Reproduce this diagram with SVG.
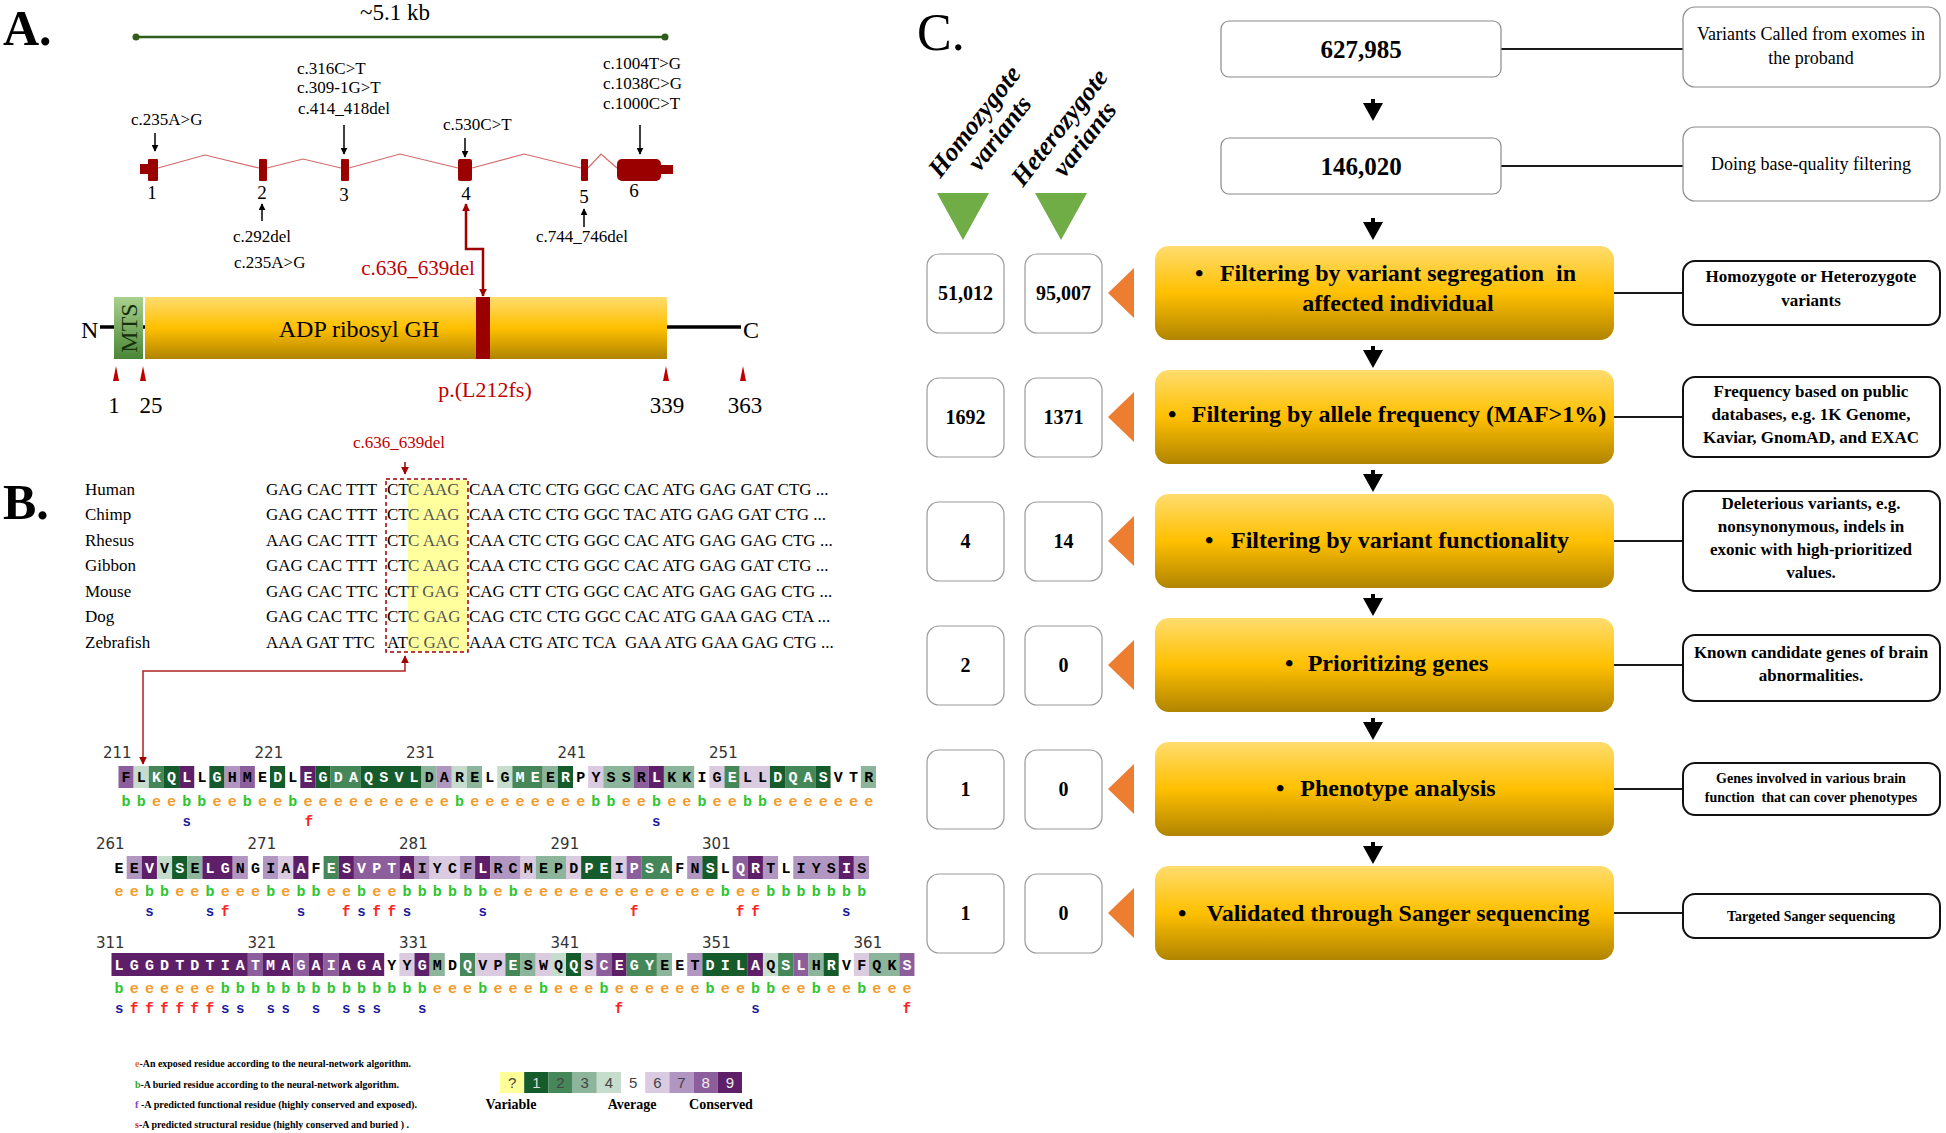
<svg xmlns="http://www.w3.org/2000/svg" width="1946" height="1133" viewBox="0 0 1946 1133">
<defs>
<style>
.s{font-family:"Liberation Serif","Times New Roman",serif}
.m{font-family:"Liberation Mono","Courier New",monospace;font-weight:bold}
.d{font-family:"DejaVu Sans",Verdana,sans-serif}
.g1{fill:#165b2c}.g2{fill:#46875a}.g3{fill:#8cb59b}.g4{fill:#c6dccd}.g6{fill:#dacbe1}.g7{fill:#b196c2}.g8{fill:#8d5e9c}.g9{fill:#5e1f69}
.w{fill:#fff}.k{fill:#000}
.b{fill:#2ec52e}.e{fill:#f39c2b}
.sn{fill:#1a1a9c}.fn{fill:#ff2222}
.cnt{fill:#fff;stroke:#9a9a9a;stroke-width:1.2}
.rb{fill:#fff;stroke:#111;stroke-width:2}
.rt{fill:#fff;stroke:#8a8a8a;stroke-width:1.2}
.yb{fill:url(#gold)}
.conn{stroke:#1a1a1a;stroke-width:1.8;fill:none}
.ex{fill:#9b0000}
.ar{fill:#000}
.tri{fill:#ed7d31}
.gt{fill:#70ad47}
.lab{font-size:17px}
</style>
<linearGradient id="gold" x1="0" y1="0" x2="0" y2="1">
<stop offset="0" stop-color="#ffdc6e"/><stop offset="0.5" stop-color="#ffc000"/><stop offset="1" stop-color="#b08400"/>
</linearGradient>
<linearGradient id="mts" x1="0" y1="0" x2="0" y2="1">
<stop offset="0" stop-color="#a9d18e"/><stop offset="1" stop-color="#4a8636"/>
</linearGradient>
<marker id="ab" viewBox="0 0 10 10" refX="9" refY="5" markerWidth="7" markerHeight="7" markerUnits="userSpaceOnUse" orient="auto-start-reverse"><path d="M0,0 L10,5 L0,10 z" fill="#000"/></marker>
<marker id="arr" viewBox="0 0 10 10" refX="9" refY="5" markerWidth="8" markerHeight="8" markerUnits="userSpaceOnUse" orient="auto-start-reverse"><path d="M0,0 L10,5 L0,10 z" fill="#a00000"/></marker>
</defs>
<rect width="1946" height="1133" fill="#fff"/>

<!-- ============ PANEL A ============ -->
<g id="panelA">
<text class="s" x="3" y="45" font-size="50" font-weight="bold">A.</text>
<g id="scale">
<line x1="136" y1="37" x2="665" y2="37" stroke="#2f5e1c" stroke-width="2.5"/>
<circle cx="136" cy="37" r="3.5" fill="#2f5e1c"/><circle cx="665" cy="37" r="3.5" fill="#2f5e1c"/>
<text class="s" x="395" y="20" font-size="23" text-anchor="middle">~5.1 kb</text>
</g>
<g id="gene">
<polyline points="158,168 205,155 259,168" fill="none" stroke="#d46a6a" stroke-width="1.2"/>
<polyline points="267,168 303,159 341,168" fill="none" stroke="#d46a6a" stroke-width="1.2"/>
<polyline points="349,168 400,154 458,168" fill="none" stroke="#d46a6a" stroke-width="1.2"/>
<polyline points="472,168 524,154 581,168" fill="none" stroke="#d46a6a" stroke-width="1.2"/>
<polyline points="588,168 601,154 617,168" fill="none" stroke="#d46a6a" stroke-width="1.2"/>
<rect class="ex" x="140" y="164" width="9" height="10"/>
<rect class="ex" x="148" y="159" width="10" height="22" rx="1"/>
<rect class="ex" x="259" y="159" width="8" height="22" rx="1"/>
<rect class="ex" x="341" y="159" width="8" height="22" rx="1"/>
<rect class="ex" x="458" y="159" width="14" height="22" rx="2"/>
<rect class="ex" x="581" y="159" width="7" height="22" rx="1"/>
<rect class="ex" x="617" y="159" width="44" height="22" rx="5"/>
<rect class="ex" x="659" y="165" width="14" height="9"/>
</g>
<g id="exonNumbers" class="s" font-size="19" text-anchor="middle">
<text x="152" y="199">1</text><text x="262" y="199">2</text><text x="344" y="201">3</text>
<text x="466" y="200">4</text><text x="584" y="203">5</text><text x="634" y="197">6</text>
</g>
<g id="mutations" class="s lab">
<text x="131" y="125">c.235A&gt;G</text>
<text x="297" y="74">c.316C&gt;T</text>
<text x="297" y="93">c.309-1G&gt;T</text>
<text x="298" y="114">c.414_418del</text>
<text x="443" y="130">c.530C&gt;T</text>
<text x="603" y="69">c.1004T&gt;G</text>
<text x="603" y="89">c.1038C&gt;G</text>
<text x="603" y="109">c.1000C&gt;T</text>
<text x="233" y="242">c.292del</text>
<text x="234" y="268">c.235A&gt;G</text>
<text x="536" y="242">c.744_746del</text>
</g>
<g id="mutationArrows" stroke="#000" stroke-width="1.5" fill="none">
<line x1="155" y1="133" x2="155" y2="151" marker-end="url(#ab)"/>
<line x1="344" y1="125" x2="344" y2="154" marker-end="url(#ab)"/>
<line x1="465" y1="138" x2="465" y2="157" marker-end="url(#ab)"/>
<line x1="640" y1="125" x2="640" y2="154" marker-end="url(#ab)"/>
<line x1="262" y1="221" x2="262" y2="204" marker-end="url(#ab)"/>
<line x1="584" y1="227" x2="584" y2="209" marker-end="url(#ab)"/>
</g>
<g id="redLinkA">
<path d="M466,204 V249 H483 V296" fill="none" stroke="#a00000" stroke-width="2.5" marker-start="url(#arr)" marker-end="url(#arr)"/>
<text class="s" x="418" y="275" font-size="21" fill="#c00000" text-anchor="middle">c.636_639del</text>
</g>
<g id="protein">
<line x1="100" y1="327" x2="115" y2="327" stroke="#000" stroke-width="3.5"/>
<line x1="142" y1="327" x2="146" y2="327" stroke="#000" stroke-width="3.5"/>
<line x1="666" y1="327" x2="741" y2="327" stroke="#000" stroke-width="3.5"/>
<rect x="114" y="297" width="29" height="62" fill="url(#mts)"/>
<rect x="145" y="297" width="522" height="62" fill="url(#gold)"/>
<rect x="476" y="297" width="14" height="62" fill="#9b0000"/>
<text class="s" transform="translate(137,328) rotate(-90)" font-size="24" text-anchor="middle" fill="#15300c">MTS</text>
<text class="s" x="359" y="337" font-size="24" text-anchor="middle">ADP ribosyl GH</text>
<text class="s" x="81" y="338" font-size="24">N</text>
<text class="s" x="743" y="338" font-size="24">C</text>
<g fill="#c00000">
<polygon points="113,381 116,366 119,381"/><polygon points="140,381 143,366 146,381"/>
<polygon points="663,381 666,366 669,381"/><polygon points="740,381 743,366 746,381"/>
</g>
<g class="s" font-size="23" text-anchor="middle">
<text x="114" y="413">1</text><text x="151" y="413">25</text><text x="667" y="413">339</text><text x="745" y="413">363</text>
</g>
<text class="s" x="485" y="397" font-size="22" fill="#c00000" text-anchor="middle">p.(L212fs)</text>
</g>
</g>

<!-- ============ PANEL B ============ -->
<g id="panelB">
<text class="s" x="3" y="519" font-size="50" font-weight="bold">B.</text>
<text class="s" x="399" y="448" font-size="17" fill="#c00000" text-anchor="middle">c.636_639del</text>
<line x1="405" y1="462" x2="405" y2="474" stroke="#a00000" stroke-width="1.5" marker-end="url(#arr)"/>
<rect x="408" y="480" width="59" height="171" fill="#ffff9e"/>
<rect x="386" y="479" width="82" height="173" fill="none" stroke="#a00000" stroke-width="1.5" stroke-dasharray="4,3"/>
<g id="species" class="s" font-size="17">
<text x="85" y="495">Human</text><text x="85" y="520">Chimp</text><text x="85" y="546">Rhesus</text>
<text x="85" y="571">Gibbon</text><text x="85" y="597">Mouse</text><text x="85" y="622">Dog</text><text x="85" y="648">Zebrafish</text>
</g>
<g id="alignment" class="s" font-size="17">
<text x="266" y="495">GAG CAC TTT</text><text x="387" y="495">CT</text><text x="408" y="495" fill="#555">C AAG</text><text x="469" y="495">CAA CTC CTG GGC CAC ATG GAG GAT CTG ...</text>
<text x="266" y="520">GAG CAC TTT</text><text x="387" y="520">CT</text><text x="408" y="520" fill="#555">C AAG</text><text x="469" y="520">CAA CTC CTG GGC TAC ATG GAG GAT CTG ...</text>
<text x="266" y="546">AAG CAC TTT</text><text x="387" y="546">CT</text><text x="408" y="546" fill="#555">C AAG</text><text x="469" y="546">CAA CTC CTG GGC CAC ATG GAG GAG CTG ...</text>
<text x="266" y="571">GAG CAC TTT</text><text x="387" y="571">CT</text><text x="408" y="571" fill="#555">C AAG</text><text x="469" y="571">CAA CTC CTG GGC CAC ATG GAG GAT CTG ...</text>
<text x="266" y="597">GAG CAC TTC</text><text x="387" y="597">CT</text><text x="408" y="597" fill="#555">T GAG</text><text x="469" y="597">CAG CTT CTG GGC CAC ATG GAG GAG CTG ...</text>
<text x="266" y="622">GAG CAC TTC</text><text x="387" y="622">CT</text><text x="408" y="622" fill="#555">C GAG</text><text x="469" y="622">CAG CTC CTG GGC CAC ATG GAA GAG CTA ...</text>
<text x="266" y="648">AAA GAT TTC</text><text x="387" y="648">AT</text><text x="408" y="648" fill="#555">C GAC</text><text x="469" y="648">AAA CTG ATC TCA&#160; GAA ATG GAA GAG CTG ...</text>
</g>
<path d="M405,656 V671 H143 V764" fill="none" stroke="#b02020" stroke-width="1.5" marker-start="url(#arr)" marker-end="url(#arr)"/>

<!-- row 1 -->
<g id="row1">
<g class="d" font-size="15" fill="#333" text-anchor="end">
<text x="131.6" y="758">211</text><text x="283.2" y="758">221</text><text x="434.7" y="758">231</text><text x="586.2" y="758">241</text><text x="737.7" y="758">251</text>
</g>
<g transform="translate(0,766)">
<rect class="g8" x="118.5" width="15.15" height="22"/>
<rect class="g4" x="133.65" width="15.15" height="22"/>
<rect class="g2" x="148.8" width="15.15" height="22"/>
<rect class="g1" x="163.95" width="15.15" height="22"/>
<rect class="g9" x="179.1" width="15.15" height="22"/>
<rect class="g1" x="209.4" width="15.15" height="22"/>
<rect class="g7" x="224.55" width="15.15" height="22"/>
<rect class="g8" x="239.7" width="15.15" height="22"/>
<rect class="g1" x="270" width="15.15" height="22"/>
<rect class="g9" x="300.3" width="15.15" height="22"/>
<rect class="g1" x="315.45" width="15.15" height="22"/>
<rect class="g2" x="330.6" width="30.3" height="22"/>
<rect class="g1" x="360.9" width="60.6" height="22"/>
<rect class="g3" x="421.5" width="15.15" height="22"/>
<rect class="g7" x="436.65" width="15.15" height="22"/>
<rect class="g4" x="451.8" width="15.15" height="22"/>
<rect class="g3" x="466.95" width="15.15" height="22"/>
<rect class="g4" x="497.25" width="15.15" height="22"/>
<rect class="g2" x="512.4" width="30.3" height="22"/>
<rect class="g3" x="542.7" width="15.15" height="22"/>
<rect class="g1" x="557.85" width="15.15" height="22"/>
<rect class="g6" x="588.15" width="15.15" height="22"/>
<rect class="g3" x="603.3" width="30.3" height="22"/>
<rect class="g8" x="633.6" width="15.15" height="22"/>
<rect class="g9" x="648.75" width="15.15" height="22"/>
<rect class="g3" x="663.9" width="30.3" height="22"/>
<rect class="g6" x="709.35" width="15.15" height="22"/>
<rect class="g2" x="724.5" width="15.15" height="22"/>
<rect class="g6" x="739.65" width="30.3" height="22"/>
<rect class="g1" x="769.95" width="15.15" height="22"/>
<rect class="g2" x="785.1" width="30.3" height="22"/>
<rect class="g1" x="815.4" width="15.15" height="22"/>
<rect class="g3" x="860.85" width="15.15" height="22"/>
</g>
<text class="m" x="121.6" y="782" font-size="15" letter-spacing="6.15"><tspan class="k">FL</tspan><tspan class="w">KQL</tspan><tspan class="k">L</tspan><tspan class="w">G</tspan><tspan class="k">HME</tspan><tspan class="w">D</tspan><tspan class="k">L</tspan><tspan class="w">EGDAQSVL</tspan><tspan class="k">DARELG</tspan><tspan class="w">ME</tspan><tspan class="k">E</tspan><tspan class="w">R</tspan><tspan class="k">PYSSR</tspan><tspan class="w">L</tspan><tspan class="k">KKIG</tspan><tspan class="w">E</tspan><tspan class="k">LL</tspan><tspan class="w">DQAS</tspan><tspan class="k">VTR</tspan></text>
<text class="m" x="121.6" y="806" font-size="15" letter-spacing="6.15"><tspan class="b">bb</tspan><tspan class="e">ee</tspan><tspan class="b">bb</tspan><tspan class="e">ee</tspan><tspan class="b">b</tspan><tspan class="e">ee</tspan><tspan class="b">b</tspan><tspan class="e">eeeeeeeeee</tspan><tspan class="b">b</tspan><tspan class="e">eeeeeeee</tspan><tspan class="b">bb</tspan><tspan class="e">ee</tspan><tspan class="b">b</tspan><tspan class="e">ee</tspan><tspan class="b">b</tspan><tspan class="e">ee</tspan><tspan class="b">bb</tspan><tspan class="e">eeeeeee</tspan></text>
<text class="m sn" x="186.7 656.3" y="826" font-size="14" text-anchor="middle">ss</text>
<text class="m fn" x="308.9" y="826" font-size="14" text-anchor="middle">f</text>
</g>

<!-- row 2 -->
<g id="row2">
<g class="d" font-size="15" fill="#333" text-anchor="end">
<text x="124.6" y="849">261</text><text x="276.2" y="849">271</text><text x="427.7" y="849">281</text><text x="579.2" y="849">291</text><text x="730.7" y="849">301</text>
</g>
<g transform="translate(0,856)">
<rect class="g7" x="126.65" width="15.15" height="23"/>
<rect class="g9" x="141.8" width="15.15" height="23"/>
<rect class="g4" x="156.95" width="15.15" height="23"/>
<rect class="g1" x="172.1" width="15.15" height="23"/>
<rect class="g3" x="187.25" width="15.15" height="23"/>
<rect class="g9" x="202.4" width="30.3" height="23"/>
<rect class="g7" x="232.7" width="15.15" height="23"/>
<rect class="g7" x="263" width="15.15" height="23"/>
<rect class="g6" x="278.15" width="15.15" height="23"/>
<rect class="g9" x="293.3" width="15.15" height="23"/>
<rect class="g2" x="323.6" width="15.15" height="23"/>
<rect class="g9" x="338.75" width="15.15" height="23"/>
<rect class="g8" x="353.9" width="45.45" height="23"/>
<rect class="g9" x="399.35" width="15.15" height="23"/>
<rect class="g7" x="414.5" width="15.15" height="23"/>
<rect class="g6" x="429.65" width="30.3" height="23"/>
<rect class="g7" x="459.95" width="15.15" height="23"/>
<rect class="g9" x="475.1" width="15.15" height="23"/>
<rect class="g7" x="490.25" width="30.3" height="23"/>
<rect class="g6" x="520.55" width="15.15" height="23"/>
<rect class="g3" x="535.7" width="30.3" height="23"/>
<rect class="g6" x="566" width="15.15" height="23"/>
<rect class="g1" x="581.15" width="30.3" height="23"/>
<rect class="g6" x="611.45" width="15.15" height="23"/>
<rect class="g8" x="626.6" width="15.15" height="23"/>
<rect class="g2" x="641.75" width="30.3" height="23"/>
<rect class="g7" x="687.2" width="15.15" height="23"/>
<rect class="g1" x="702.35" width="15.15" height="23"/>
<rect class="g8" x="732.65" width="15.15" height="23"/>
<rect class="g9" x="747.8" width="15.15" height="23"/>
<rect class="g7" x="762.95" width="15.15" height="23"/>
<rect class="g7" x="793.25" width="45.45" height="23"/>
<rect class="g9" x="838.7" width="15.15" height="23"/>
<rect class="g7" x="853.85" width="15.15" height="23"/>
</g>
<text class="m" x="114.6" y="872.5" font-size="15" letter-spacing="6.15"><tspan class="k">EE</tspan><tspan class="w">V</tspan><tspan class="k">V</tspan><tspan class="w">S</tspan><tspan class="k">E</tspan><tspan class="w">LG</tspan><tspan class="k">NGIA</tspan><tspan class="w">A</tspan><tspan class="k">F</tspan><tspan class="w">ESVPTA</tspan><tspan class="k">IYCF</tspan><tspan class="w">L</tspan><tspan class="k">RCMEPD</tspan><tspan class="w">PE</tspan><tspan class="k">I</tspan><tspan class="w">PSA</tspan><tspan class="k">FN</tspan><tspan class="w">S</tspan><tspan class="k">L</tspan><tspan class="w">QR</tspan><tspan class="k">TLIYS</tspan><tspan class="w">I</tspan><tspan class="k">S</tspan></text>
<text class="m" x="114.6" y="896" font-size="15" letter-spacing="6.15"><tspan class="e">ee</tspan><tspan class="b">bb</tspan><tspan class="e">ee</tspan><tspan class="b">b</tspan><tspan class="e">eee</tspan><tspan class="b">b</tspan><tspan class="e">e</tspan><tspan class="b">bb</tspan><tspan class="e">ee</tspan><tspan class="b">b</tspan><tspan class="e">ee</tspan><tspan class="b">bbbbbb</tspan><tspan class="e">e</tspan><tspan class="b">b</tspan><tspan class="e">eeeeeeeeeeeee</tspan><tspan class="b">b</tspan><tspan class="e">ee</tspan><tspan class="b">bbbbbbb</tspan></text>
<text class="m sn" x="149.4 210 300.9 361.5 406.9 482.7 846.3" y="916" font-size="14" text-anchor="middle">sssssss</text>
<text class="m fn" x="225.1 346.3 376.6 391.8 634.2 740.2 755.4" y="916" font-size="14" text-anchor="middle">fffffff</text>
</g>

<!-- row 3 -->
<g id="row3">
<g class="d" font-size="15" fill="#333" text-anchor="end">
<text x="124.6" y="948">311</text><text x="276.2" y="948">321</text><text x="427.7" y="948">331</text><text x="579.2" y="948">341</text><text x="730.7" y="948">351</text><text x="882.2" y="948">361</text>
</g>
<g transform="translate(0,953)">
<rect class="g9" x="111.5" width="136.35" height="23"/>
<rect class="g8" x="247.85" width="15.15" height="23"/>
<rect class="g9" x="263" width="30.3" height="23"/>
<rect class="g8" x="293.3" width="15.15" height="23"/>
<rect class="g9" x="308.45" width="15.15" height="23"/>
<rect class="g8" x="323.6" width="15.15" height="23"/>
<rect class="g9" x="338.75" width="45.45" height="23"/>
<rect class="g6" x="399.35" width="15.15" height="23"/>
<rect class="g9" x="414.5" width="15.15" height="23"/>
<rect class="g3" x="429.65" width="15.15" height="23"/>
<rect class="g2" x="459.95" width="15.15" height="23"/>
<rect class="g6" x="475.1" width="30.3" height="23"/>
<rect class="g2" x="505.4" width="15.15" height="23"/>
<rect class="g3" x="520.55" width="15.15" height="23"/>
<rect class="g6" x="535.7" width="15.15" height="23"/>
<rect class="g4" x="550.85" width="15.15" height="23"/>
<rect class="g1" x="566" width="15.15" height="23"/>
<rect class="g6" x="581.15" width="15.15" height="23"/>
<rect class="g8" x="596.3" width="15.15" height="23"/>
<rect class="g9" x="611.45" width="15.15" height="23"/>
<rect class="g2" x="626.6" width="30.3" height="23"/>
<rect class="g3" x="656.9" width="15.15" height="23"/>
<rect class="g7" x="687.2" width="15.15" height="23"/>
<rect class="g1" x="702.35" width="45.45" height="23"/>
<rect class="g9" x="747.8" width="15.15" height="23"/>
<rect class="g4" x="762.95" width="15.15" height="23"/>
<rect class="g2" x="778.1" width="15.15" height="23"/>
<rect class="g8" x="793.25" width="15.15" height="23"/>
<rect class="g3" x="808.4" width="15.15" height="23"/>
<rect class="g1" x="823.55" width="15.15" height="23"/>
<rect class="g6" x="853.85" width="15.15" height="23"/>
<rect class="g3" x="869" width="30.3" height="23"/>
<rect class="g8" x="899.3" width="15.15" height="23"/>
</g>
<text class="m" x="114.6" y="969.5" font-size="15" letter-spacing="6.15"><tspan class="w">LGGDTDTIATMAGAIAGA</tspan><tspan class="k">YY</tspan><tspan class="w">G</tspan><tspan class="k">MD</tspan><tspan class="w">Q</tspan><tspan class="k">VP</tspan><tspan class="w">E</tspan><tspan class="k">SWQ</tspan><tspan class="w">Q</tspan><tspan class="k">S</tspan><tspan class="w">CEGY</tspan><tspan class="k">EET</tspan><tspan class="w">DILA</tspan><tspan class="k">Q</tspan><tspan class="w">SL</tspan><tspan class="k">H</tspan><tspan class="w">R</tspan><tspan class="k">VFQK</tspan><tspan class="w">S</tspan></text>
<text class="m" x="114.6" y="993" font-size="15" letter-spacing="6.15"><tspan class="b">b</tspan><tspan class="e">eeeeee</tspan><tspan class="b">bbbbbbbbbbbbbb</tspan><tspan class="e">eee</tspan><tspan class="b">b</tspan><tspan class="e">eee</tspan><tspan class="b">b</tspan><tspan class="e">eee</tspan><tspan class="b">b</tspan><tspan class="e">eeeeee</tspan><tspan class="b">b</tspan><tspan class="e">ee</tspan><tspan class="b">bb</tspan><tspan class="e">ee</tspan><tspan class="b">b</tspan><tspan class="e">ee</tspan><tspan class="b">b</tspan><tspan class="e">eee</tspan></text>
<text class="m sn" x="119.1 225.1 240.3 270.6 285.7 316 346.3 361.5 376.6 422.1 755.4" y="1013" font-size="14" text-anchor="middle">sssssssssss</text>
<text class="m fn" x="134.2 149.4 164.5 179.7 194.8 210 619 906.9" y="1013" font-size="14" text-anchor="middle">ffffffff</text>
</g>

<!-- legend -->
<g id="legend" class="s" font-size="10.5" font-weight="bold">
<text x="135" y="1067" textLength="276" lengthAdjust="spacingAndGlyphs"><tspan fill="#e8701c">e</tspan>-An exposed residue according to the neural-network algorithm.</text>
<text x="135" y="1088" textLength="264" lengthAdjust="spacingAndGlyphs"><tspan fill="#2aa52a">b</tspan>-A buried residue according to the neural-network algorithm.</text>
<text x="135" y="1108" textLength="282" lengthAdjust="spacingAndGlyphs"><tspan fill="#8a3cc8">f</tspan> -A predicted functional residue (highly conserved and exposed).</text>
<text x="135" y="1128" textLength="274" lengthAdjust="spacingAndGlyphs"><tspan fill="#e02020">s</tspan>-A predicted structural residue (highly conserved and buried ) .</text>
</g>
<g id="scaleBar">
<rect x="500" y="1072" width="24.2" height="21" fill="#ffff99"/>
<rect class="g1" x="524.2" y="1072" width="24.2" height="21"/>
<rect class="g2" x="548.4" y="1072" width="24.2" height="21"/>
<rect class="g3" x="572.6" y="1072" width="24.2" height="21"/>
<rect class="g4" x="596.8" y="1072" width="24.2" height="21"/>
<rect class="g6" x="645.2" y="1072" width="24.2" height="21"/>
<rect class="g7" x="669.4" y="1072" width="24.2" height="21"/>
<rect class="g8" x="693.6" y="1072" width="24.2" height="21"/>
<rect class="g9" x="717.8" y="1072" width="24.2" height="21"/>
<g font-family="Liberation Sans, Arial, sans-serif" font-size="15" text-anchor="middle" fill="#444">
<text x="512.1" y="1088">?</text><text x="536.3" y="1088" fill="#ddd">1</text><text x="560.5" y="1088">2</text><text x="584.7" y="1088">3</text><text x="608.9" y="1088">4</text><text x="633.1" y="1088">5</text><text x="657.3" y="1088">6</text><text x="681.5" y="1088">7</text><text x="705.7" y="1088" fill="#eee">8</text><text x="729.9" y="1088" fill="#eee">9</text>
</g>
<g class="s" font-size="14" font-weight="bold" text-anchor="middle">
<text x="511" y="1109">Variable</text><text x="632" y="1109">Average</text><text x="721" y="1109">Conserved</text>
</g>
</g>
</g>

<!-- ============ PANEL C ============ -->
<g id="panelC">
<text class="s" x="917" y="50" font-size="52">C.</text>
<g id="colHeaders" class="s" font-size="26" font-weight="bold" font-style="italic" text-anchor="middle">
<g transform="translate(974,121) rotate(-52)"><text x="0" y="9">Homozygote</text><text x="6" y="36">variants</text></g>
<g transform="translate(1059,127) rotate(-52)"><text x="0" y="9">Heterozygote</text><text x="6" y="36">variants</text></g>
</g>
<polygon class="gt" points="937,193 989,193 963,240"/>
<polygon class="gt" points="1035,193 1087,193 1061,240"/>

<g id="connectors">
<line class="conn" x1="1501" y1="49" x2="1683" y2="49"/>
<line class="conn" x1="1501" y1="166" x2="1683" y2="166"/>
<line class="conn" x1="1614" y1="293" x2="1683" y2="293"/>
<line class="conn" x1="1614" y1="417" x2="1683" y2="417"/>
<line class="conn" x1="1614" y1="541" x2="1683" y2="541"/>
<line class="conn" x1="1614" y1="665" x2="1683" y2="665"/>
<line class="conn" x1="1614" y1="789" x2="1683" y2="789"/>
<line class="conn" x1="1614" y1="913" x2="1683" y2="913"/>
<path class="ar" d="M1371,99 h4 v4 h8 l-10,18 l-10,-18 h8 z"/>
<path class="ar" d="M1371,218 h4 v4 h8 l-10,18 l-10,-18 h8 z"/>
<path class="ar" d="M1371,346 h4 v4 h8 l-10,18 l-10,-18 h8 z"/>
<path class="ar" d="M1371,470 h4 v4 h8 l-10,18 l-10,-18 h8 z"/>
<path class="ar" d="M1371,594 h4 v4 h8 l-10,18 l-10,-18 h8 z"/>
<path class="ar" d="M1371,718 h4 v4 h8 l-10,18 l-10,-18 h8 z"/>
<path class="ar" d="M1371,842 h4 v4 h8 l-10,18 l-10,-18 h8 z"/>
</g>

<g id="n627985"><rect class="rt" x="1221" y="21" width="280" height="56" rx="8"/><text class="s" x="1361" y="58" font-size="25" font-weight="bold" text-anchor="middle">627,985</text></g>
<g id="n146020"><rect class="rt" x="1221" y="138" width="280" height="56" rx="8"/><text class="s" x="1361" y="175" font-size="25" font-weight="bold" text-anchor="middle">146,020</text></g>
<g id="noteCalled"><rect class="rt" x="1683" y="7" width="257" height="80" rx="12"/><text class="s" font-size="18" text-anchor="middle"><tspan x="1811" y="40">Variants Called from exomes in</tspan><tspan x="1811" y="64">the proband</tspan></text></g>
<g id="noteQuality"><rect class="rt" x="1683" y="127" width="257" height="74" rx="12"/><text class="s" x="1811" y="170" font-size="18" text-anchor="middle">Doing base-quality filtering</text></g>

<g id="filters" class="s" font-size="24" font-weight="bold">
<g id="f1"><rect class="yb" x="1155" y="246" width="459" height="94" rx="14"/><text x="1195" y="281">•</text><text x="1398" y="281" text-anchor="middle">Filtering by variant segregation&#160; in</text><text x="1398" y="311" text-anchor="middle">affected individual</text></g>
<g id="f2"><rect class="yb" x="1155" y="370" width="459" height="94" rx="14"/><text x="1168" y="422">•</text><text x="1399" y="422" text-anchor="middle">Filtering by allele frequency (MAF&gt;1%)</text></g>
<g id="f3"><rect class="yb" x="1155" y="494" width="459" height="94" rx="14"/><text x="1205" y="548">•</text><text x="1400" y="548" text-anchor="middle">Filtering by variant functionality</text></g>
<g id="f4"><rect class="yb" x="1155" y="618" width="459" height="94" rx="14"/><text x="1285" y="671">•</text><text x="1398" y="671" text-anchor="middle">Prioritizing genes</text></g>
<g id="f5"><rect class="yb" x="1155" y="742" width="459" height="94" rx="14"/><text x="1276" y="796">•</text><text x="1398" y="796" text-anchor="middle">Phenotype analysis</text></g>
<g id="f6"><rect class="yb" x="1155" y="866" width="459" height="94" rx="14"/><text x="1178" y="921">•</text><text x="1398" y="921" text-anchor="middle">Validated through Sanger sequencing</text></g>
</g>

<g id="triangles">
<polygon class="tri" points="1108,293 1134,268 1134,318"/>
<polygon class="tri" points="1108,417 1134,392 1134,442"/>
<polygon class="tri" points="1108,541 1134,516 1134,566"/>
<polygon class="tri" points="1108,665 1134,640 1134,690"/>
<polygon class="tri" points="1108,789 1134,764 1134,814"/>
<polygon class="tri" points="1108,913 1134,888 1134,938"/>
</g>

<g id="counts" class="s" font-size="20" font-weight="bold" text-anchor="middle">
<g id="c1"><rect class="cnt" x="927" y="254" width="77" height="79" rx="12"/><rect class="cnt" x="1025" y="254" width="77" height="79" rx="12"/><text x="965.5" y="300">51,012</text><text x="1063.5" y="300">95,007</text></g>
<g id="c2"><rect class="cnt" x="927" y="378" width="77" height="79" rx="12"/><rect class="cnt" x="1025" y="378" width="77" height="79" rx="12"/><text x="965.5" y="424">1692</text><text x="1063.5" y="424">1371</text></g>
<g id="c3"><rect class="cnt" x="927" y="502" width="77" height="79" rx="12"/><rect class="cnt" x="1025" y="502" width="77" height="79" rx="12"/><text x="965.5" y="548">4</text><text x="1063.5" y="548">14</text></g>
<g id="c4"><rect class="cnt" x="927" y="626" width="77" height="79" rx="12"/><rect class="cnt" x="1025" y="626" width="77" height="79" rx="12"/><text x="965.5" y="672">2</text><text x="1063.5" y="672">0</text></g>
<g id="c5"><rect class="cnt" x="927" y="750" width="77" height="79" rx="12"/><rect class="cnt" x="1025" y="750" width="77" height="79" rx="12"/><text x="965.5" y="796">1</text><text x="1063.5" y="796">0</text></g>
<g id="c6"><rect class="cnt" x="927" y="874" width="77" height="79" rx="12"/><rect class="cnt" x="1025" y="874" width="77" height="79" rx="12"/><text x="965.5" y="920">1</text><text x="1063.5" y="920">0</text></g>
</g>

<g id="notes" class="s" font-weight="bold" text-anchor="middle">
<g id="n1"><rect class="rb" x="1683" y="261" width="257" height="64" rx="12"/><text font-size="17"><tspan x="1811" y="282">Homozygote or Heterozygote</tspan><tspan x="1811" y="306">variants</tspan></text></g>
<g id="n2"><rect class="rb" x="1683" y="377" width="257" height="80" rx="12"/><text font-size="17"><tspan x="1811" y="397">Frequency based on public</tspan><tspan x="1811" y="420">databases, e.g. 1K Genome,</tspan><tspan x="1811" y="443">Kaviar, GnomAD, and EXAC</tspan></text></g>
<g id="n3"><rect class="rb" x="1683" y="491" width="257" height="100" rx="12"/><text font-size="17"><tspan x="1811" y="509">Deleterious variants, e.g.</tspan><tspan x="1811" y="532">nonsynonymous, indels in</tspan><tspan x="1811" y="555">exonic with high-prioritized</tspan><tspan x="1811" y="578">values.</tspan></text></g>
<g id="n4"><rect class="rb" x="1683" y="635" width="257" height="66" rx="12"/><text font-size="17"><tspan x="1811" y="658">Known candidate genes of brain</tspan><tspan x="1811" y="681">abnormalities.</tspan></text></g>
<g id="n5"><rect class="rb" x="1683" y="763" width="257" height="52" rx="12"/><text font-size="14"><tspan x="1811" y="783">Genes involved in various brain</tspan><tspan x="1811" y="802">function&#160; that can cover phenotypes</tspan></text></g>
<g id="n6"><rect class="rb" x="1683" y="894" width="257" height="44" rx="12"/><text x="1811" y="921" font-size="14">Targeted Sanger sequencing</text></g>
</g>
</g>
</svg>
